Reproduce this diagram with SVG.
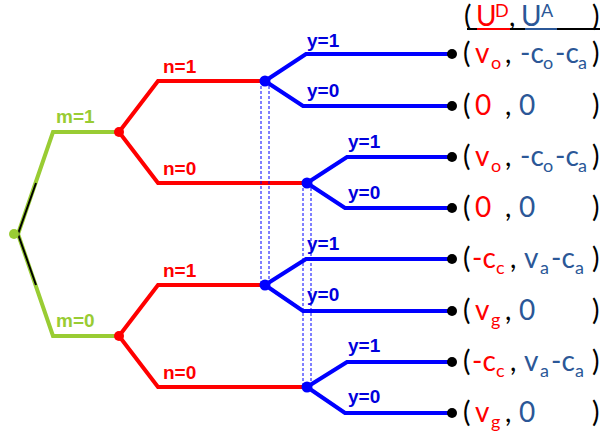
<svg xmlns="http://www.w3.org/2000/svg" width="603" height="436" viewBox="0 0 603 436">
<style>
.g{stroke:#99cc33;stroke-width:4;fill:none}
.r{stroke:#ff0000;stroke-width:4;fill:none}
.b{stroke:#0000ff;stroke-width:4;fill:none}
.d{stroke:#0000ff;stroke-width:1;stroke-dasharray:3 2;fill:none}
.lb{font-family:"Liberation Sans",Arial,sans-serif;font-weight:bold;font-size:19px}
.lg{fill:#99cc33}.lr{fill:#ff0000}.lbl{fill:#0000dd}
.t{font-family:Lato,"Open Sans",sans-serif;font-size:28px;fill:#000}
.R{fill:#ff0000}.B{fill:#2b5797}
.s{font-size:18px}
</style>
<rect width="603" height="436" fill="#fff"/>
<g id="connectors">
<path class="g" d="M18,234 L53,132 L119,132"/>
<path class="g" d="M18,234 L53,336 L119,336"/>
<path d="M36,183 L18,234 L36,285" stroke="#000" stroke-width="2" fill="none"/>
<path class="r" d="M119,132 L158,81 L265,81"/>
<path class="r" d="M119,132 L158,183 L307,183"/>
<path class="r" d="M119,336 L158,285 L265,285"/>
<path class="r" d="M119,336 L158,387 L307,387"/>
<path class="b" d="M265,81 L306,54 L452,54"/>
<path class="b" d="M265,81 L303,106 L452,106"/>
<path class="b" d="M307,183 L347,157 L452,157"/>
<path class="b" d="M307,183 L345,208 L452,208"/>
<path class="b" d="M265,285 L306,259 L452,259"/>
<path class="b" d="M265,285 L303,311 L452,311"/>
<path class="b" d="M307,387 L347,362 L452,362"/>
<path class="b" d="M307,387 L345,413 L452,413"/>
<path class="d" d="M261,81 V285 M269,81 V285 M303,183 V387 M311,183 V387"/>
<text class="lb lg" x="56" y="123">m=1</text>
<text class="lb lg" x="56" y="327">m=0</text>
<text class="lb lr" x="163" y="73">n=1</text>
<text class="lb lr" x="163" y="175">n=0</text>
<text class="lb lr" x="163" y="277">n=1</text>
<text class="lb lr" x="163" y="379">n=0</text>
<text class="lb lbl" x="307" y="47">y=1</text>
<text class="lb lbl" x="307" y="97">y=0</text>
<text class="lb lbl" x="348" y="148">y=1</text>
<text class="lb lbl" x="348" y="199">y=0</text>
<text class="lb lbl" x="307" y="250">y=1</text>
<text class="lb lbl" x="307" y="301">y=0</text>
<text class="lb lbl" x="348" y="352">y=1</text>
<text class="lb lbl" x="348" y="403">y=0</text>
</g>
<g id="root"><circle cx="14" cy="234" r="5" fill="#99cc33"/></g>
<g id="n-m1"><circle cx="119" cy="132" r="5" fill="#ff0000"/></g>
<g id="n-m0"><circle cx="119" cy="336" r="5" fill="#ff0000"/></g>
<g id="a-11"><circle cx="265" cy="81" r="5.5" fill="#0000ff"/></g>
<g id="a-10"><circle cx="307" cy="183" r="5.5" fill="#0000ff"/></g>
<g id="a-01"><circle cx="265" cy="285" r="5.5" fill="#0000ff"/></g>
<g id="a-00"><circle cx="307" cy="387" r="5.5" fill="#0000ff"/></g>
<g id="header">
<text class="t" y="26"><tspan x="464">(</tspan><tspan class="R" x="476">U</tspan><tspan class="R s" x="495" dy="-9">D</tspan><tspan x="509" dy="9">,</tspan><tspan class="B" x="521">U</tspan><tspan class="B s" x="541" dy="-9">A</tspan><tspan x="592" dy="9">)</tspan></text>
<line x1="467" y1="29" x2="600" y2="29" stroke="#000" stroke-width="2"/>
<line x1="477" y1="29" x2="510" y2="29" stroke="#ff0000" stroke-width="2"/>
<line x1="525" y1="29" x2="557" y2="29" stroke="#2b5797" stroke-width="2"/>
</g>
<g id="leaf1"><circle cx="452" cy="54" r="5" fill="#000"/>
<text class="t" y="63"><tspan x="463">(</tspan><tspan class="R" x="475">v</tspan><tspan class="R s" x="491" dy="6">o</tspan><tspan x="505" dy="-6">,</tspan><tspan class="B" x="520">-c</tspan><tspan class="B s" x="543" dy="6">o</tspan><tspan class="B" x="555" dy="-6">-c</tspan><tspan class="B s" x="578" dy="6">a</tspan><tspan x="592" dy="-6">)</tspan></text></g>
<g id="leaf2"><circle cx="452" cy="106" r="5" fill="#000"/>
<text class="t" y="115"><tspan x="463">(</tspan><tspan class="R" x="475">0</tspan><tspan x="505">,</tspan><tspan class="B" x="519">0</tspan><tspan x="592">)</tspan></text></g>
<g id="leaf3"><circle cx="452" cy="157" r="5" fill="#000"/>
<text class="t" y="166"><tspan x="463">(</tspan><tspan class="R" x="475">v</tspan><tspan class="R s" x="491" dy="6">o</tspan><tspan x="505" dy="-6">,</tspan><tspan class="B" x="520">-c</tspan><tspan class="B s" x="543" dy="6">o</tspan><tspan class="B" x="555" dy="-6">-c</tspan><tspan class="B s" x="578" dy="6">a</tspan><tspan x="592" dy="-6">)</tspan></text></g>
<g id="leaf4"><circle cx="452" cy="208" r="5" fill="#000"/>
<text class="t" y="217"><tspan x="463">(</tspan><tspan class="R" x="475">0</tspan><tspan x="505">,</tspan><tspan class="B" x="519">0</tspan><tspan x="592">)</tspan></text></g>
<g id="leaf5"><circle cx="452" cy="259" r="5" fill="#000"/>
<text class="t" y="268"><tspan x="463">(</tspan><tspan class="R" x="472">-c</tspan><tspan class="R s" x="496" dy="6">c</tspan><tspan x="510" dy="-6">,</tspan><tspan class="B" x="524">v</tspan><tspan class="B s" x="540" dy="6">a</tspan><tspan class="B" x="551" dy="-6">-c</tspan><tspan class="B s" x="575" dy="6">a</tspan><tspan x="592" dy="-6">)</tspan></text></g>
<g id="leaf6"><circle cx="452" cy="311" r="5" fill="#000"/>
<text class="t" y="320"><tspan x="463">(</tspan><tspan class="R" x="475">v</tspan><tspan class="R s" x="491" dy="6">g</tspan><tspan x="505" dy="-6">,</tspan><tspan class="B" x="519">0</tspan><tspan x="592">)</tspan></text></g>
<g id="leaf7"><circle cx="452" cy="362" r="5" fill="#000"/>
<text class="t" y="371"><tspan x="463">(</tspan><tspan class="R" x="472">-c</tspan><tspan class="R s" x="496" dy="6">c</tspan><tspan x="510" dy="-6">,</tspan><tspan class="B" x="524">v</tspan><tspan class="B s" x="540" dy="6">a</tspan><tspan class="B" x="551" dy="-6">-c</tspan><tspan class="B s" x="575" dy="6">a</tspan><tspan x="592" dy="-6">)</tspan></text></g>
<g id="leaf8"><circle cx="452" cy="413" r="5" fill="#000"/>
<text class="t" y="422"><tspan x="463">(</tspan><tspan class="R" x="475">v</tspan><tspan class="R s" x="491" dy="6">g</tspan><tspan x="505" dy="-6">,</tspan><tspan class="B" x="519">0</tspan><tspan x="592">)</tspan></text></g>
</svg>
